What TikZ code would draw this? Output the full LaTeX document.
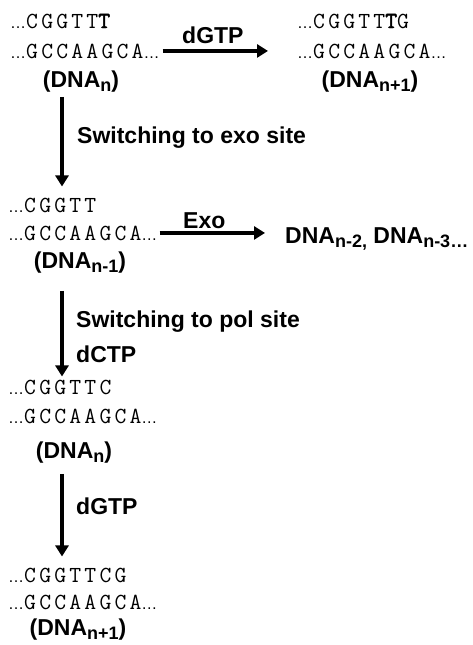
\documentclass[tikz,border=0pt]{standalone}
\usepackage{fontspec}
\setmainfont{Liberation Sans}
\newfontfamily\seqfont{Latin Modern Mono}[LetterSpace=14]
\newfontfamily\seqbold{Latin Modern Mono}[LetterSpace=14,FakeBold=2]
\usetikzlibrary{arrows.meta}
\newcommand{\sub}[1]{\raisebox{-4pt}{\fontsize{18}{20}\selectfont #1}}
\newcommand{\mis}[1]{{\seqbold #1}}
\newcommand{\elp}{{\rmfamily\fontsize{16}{18}\selectfont …}}
\begin{document}
    \begin{tikzpicture}[x=1pt,y=-1pt,
            seq/.style={anchor=base west,inner sep=0pt,font=\seqfont\fontsize{23}{24}\selectfont},
            lbl/.style={anchor=base west,inner sep=0pt,font=\bfseries\fontsize{23}{26}\selectfont},
            dna/.style={anchor=base,inner sep=0pt,font=\bfseries\fontsize{23}{26}\selectfont},
            arr/.style={line width=3.6pt,-{Triangle[length=11pt,width=13pt]}}]
        \useasboundingbox (0,0) rectangle (473,645);
        \coordinate (vx) at (62,0);

        \node[seq] (s1a) at (10,28) {\elp CGGTT\mis{T}};
        \node[seq] (s1b) at (10,58) {\elp GCCAAGCA\elp};
        \node[dna] (d1) at (81,87) {(DNA\sub{n})};
        \node[seq] (p1a) at (297,28) {\elp CGGTT\mis{T}G};
        \node[seq] (p1b) at (297,58) {\elp GCCAAGCA\elp};
        \node[dna] (q1) at (370,87) {(DNA\sub{n+1})};
        \node[lbl] (g1) at (182,43) {dGTP};

        \node[lbl] (w1) at (77,143) {Switching to exo site};

        \node[seq] (s2a) at (8,212) {\elp CGGTT};
        \node[seq] (s2b) at (8,240) {\elp GCCAAGCA\elp};
        \node[dna] (d2) at (80,268) {(DNA\sub{n-1})};
        \node[lbl] (e2) at (183,228) {Exo};
        \node[lbl] (p2) at (285,243) {DNA\sub{n-2,} DNA\sub{n-3…}};

        \node[lbl] (w2) at (76,327) {Switching to pol site};
        \node[lbl] (c2) at (76,362) {dCTP};

        \node[seq] (s3a) at (8,394) {\elp CGGTTC};
        \node[seq] (s3b) at (8,423) {\elp GCCAAGCA\elp};
        \node[dna] (d3) at (74,458) {(DNA\sub{n})};

        \node[lbl] (g3) at (76,514) {dGTP};

        \node[seq] (s4a) at (8,582) {\elp CGGTTCG};
        \node[seq] (s4b) at (8,609) {\elp GCCAAGCA\elp};
        \node[dna] (d4) at (78,635) {(DNA\sub{n+1})};

        \draw[arr] ([xshift=3pt]s1b.east) -- ([xshift=-29pt]s1b.east -| p1b.west);
        \draw[arr] ([yshift=-5pt]d1.south -| vx) -- ([yshift=11pt]s2a.north -| vx);
        \draw[arr] ([xshift=2pt]s2b.east) -- ([xshift=-20pt]s2b.east -| p2.west);
        \draw[arr] ([yshift=-18pt]d2.south -| vx) -- ([yshift=3pt]s3a.north -| vx);
        \draw[arr] ([yshift=-11pt]d3.south -| vx) -- ([yshift=11pt]s4a.north -| vx);
    \end{tikzpicture}
\end{document}
